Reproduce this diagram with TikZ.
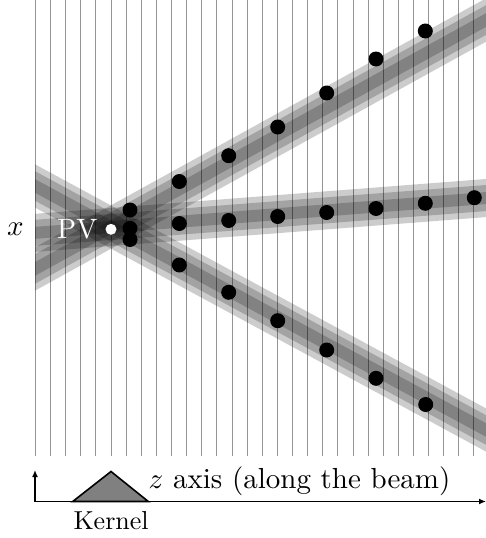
\documentclass[tikz,border=0pt]{standalone}
\usepackage{graphicx}
\usetikzlibrary{arrows.meta}
\tikzset{
  vline/.style={draw=black!42, line width=1pt},
  bandlayer/.style={draw=black, draw opacity=0.2, line cap=butt},
  hit/.style={circle, fill=black, inner sep=0pt, minimum size=15pt},
  pvdot/.style={circle, fill=white, inner sep=0pt, minimum size=11pt},
  axisline/.style={line width=1.6pt, -{Latex[length=7pt,width=6pt]}},
  txt/.style={font=\fontsize{10}{12}\selectfont, inner sep=0pt}
}
\begin{document}
\begin{tikzpicture}[x=1pt,y=-1pt]
\useasboundingbox (0,0) rectangle (486,538);
% detector planes
\foreach \k in {0,...,29}
  \draw[vline] ({35.5+15.12*\k},0) -- ({35.5+15.12*\k},456);
% track bands
\coordinate (uA) at (15,280);
\coordinate (uB) at (506,9);
\coordinate (mA) at (15,234.4);
\coordinate (mB) at (506,196.5);
\coordinate (lA) at (15,175.1);
\coordinate (lB) at (506,440.8);
\begin{scope}
  \clip (35,0) rectangle (486,456);
  \foreach \w in {38,26,12} {
    \draw[bandlayer, line width=\w pt] (uA) -- (uB);
    \draw[bandlayer, line width=\w pt] (mA) -- (mB);
    \draw[bandlayer, line width=\w pt] (lA) -- (lB);
  }
\end{scope}
% hits: upper track
\node[hit] (u1) at (130,210) {};
\node[hit] (u2) at (179.3,181.5) {};
\node[hit] (u3) at (228.7,155.7) {};
\node[hit] (u4) at (277.7,127) {};
\node[hit] (u5) at (326.7,93) {};
\node[hit] (u6) at (376,59) {};
\node[hit] (u7) at (425.3,31) {};
% hits: middle track
\node[hit] (m1) at (130,228.3) {};
\node[hit] (m2) at (179.3,223.5) {};
\node[hit] (m3) at (228.7,220.5) {};
\node[hit] (m4) at (277.7,216.5) {};
\node[hit] (m5) at (326.7,212.5) {};
\node[hit] (m6) at (376,208.5) {};
\node[hit] (m7) at (425.3,203.3) {};
\node[hit] (m8) at (474.3,197.7) {};
% hits: lower track
\node[hit] (l1) at (130,239.5) {};
\node[hit] (l2) at (179.3,265) {};
\node[hit] (l3) at (228.7,292.3) {};
\node[hit] (l4) at (277.7,320.7) {};
\node[hit] (l5) at (326.7,350) {};
\node[hit] (l6) at (376,378.3) {};
\node[hit] (l7) at (425.7,404.5) {};
% primary vertex
\node[pvdot] (pv) at (111,229.3) {};
\node[txt, text=white, anchor=east] (pvlabel) at (97.5,229.5) {\scalebox{2.8}{PV}};
\node[txt] (xlabel) at (15.5,229) {\scalebox{2.9}{$x$}};
% axis
\coordinate (origin) at (35,501.5);
\coordinate (zend) at (486,501.5);
\coordinate (xup) at (35,470);
\draw[axisline] (origin) -- (zend);
\draw[axisline] (origin) -- (xup);
% kernel
\coordinate (kL) at (72.7,501.5);
\coordinate (kT) at (111,471.5);
\coordinate (kR) at (148.3,501.5);
\filldraw[fill=black!50, draw=black, line width=1.6pt, line join=miter] (kL) -- (kT) -- (kR) -- cycle;
\node[txt, anchor=base west] (zlabel) at (148.5,488) {\scalebox{2.9}{$z$ axis (along the beam)}};
\node[txt, anchor=base west] (klabel) at (73.3,529) {\scalebox{2.6}{Kernel}};
\end{tikzpicture}
\end{document}
